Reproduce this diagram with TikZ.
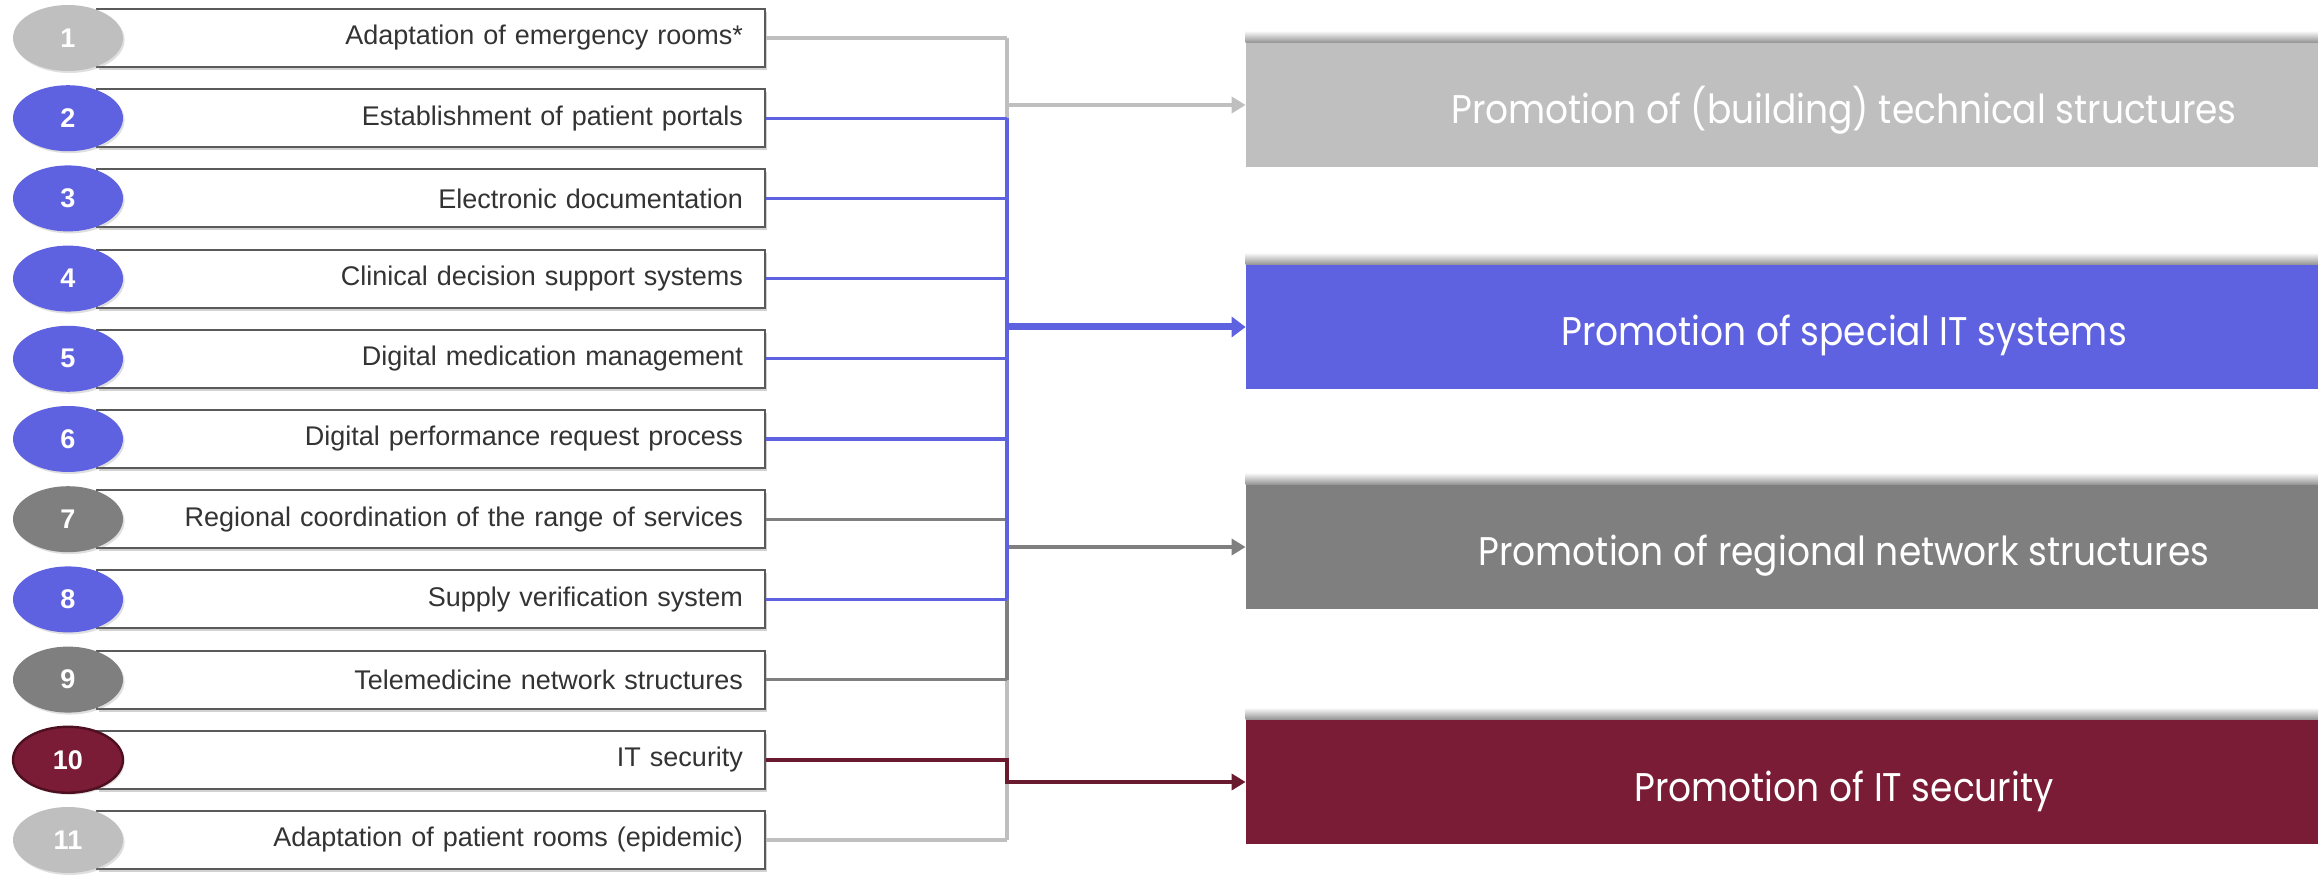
\documentclass[tikz,border=0pt]{standalone}
\usepackage{fontspec}
\setmainfont{Liberation Sans}
\newfontfamily\tgtfont[FakeStretch=0.9]{Poppins}
\usetikzlibrary{shadows,arrows.meta,calc,shapes.geometric}
\definecolor{cLG}{HTML}{BFBFBF}
\definecolor{cBL}{HTML}{5E62E0}
\definecolor{cDG}{HTML}{7F7F7F}
\definecolor{cMR}{HTML}{7A1C35}
\definecolor{cMRd}{HTML}{4E0F20}
\definecolor{cMRl}{HTML}{6A1A2E}
\definecolor{cBorder}{HTML}{5A5A5A}
\definecolor{cText}{HTML}{333333}
\begin{document}
\begin{tikzpicture}[x=0.5pt,y=-0.5pt,
  itembox/.style={draw=cBorder, line width=1pt, fill=white, minimum width=334pt,
    minimum height=29pt, inner sep=0pt, text width=312pt, align=right,
    font=\fontsize{13.5}{15}\selectfont, text=cText,
    drop shadow={shadow xshift=1pt, shadow yshift=-1.5pt, opacity=0.35}},
  numcirc/.style={ellipse, minimum width=55pt, minimum height=33pt, inner sep=0pt,
    text=white, font=\bfseries\fontsize{13.5}{15}\selectfont,
    drop shadow={shadow xshift=0.8pt, shadow yshift=-1pt, opacity=0.25}},
  cLGc/.style={fill=cLG},
  cBLc/.style={fill=cBL},
  cDGc/.style={fill=cDG},
  cMRc/.style={fill=cMR, draw=cMRd, line width=1.2pt},
  target/.style={minimum width=598pt, minimum height=62pt, inner sep=0pt,
    text height=19pt, text depth=0pt,
    text=white, font=\tgtfont\fontsize{20}{23}\selectfont},
  rowline/.style={line width=1.6pt},
  busline/.style={line width=1.8pt},
  arr/.style={-{Triangle[length=7pt,width=8pt]}}
]
\useasboundingbox (0,0) rectangle (2318,876);
\clip (0,0) rectangle (2318,876);
\fill[white] (0,0) rectangle (2318,876);

% target boxes
\foreach \n/\y/\c/\t in {1/105/cLG/Promotion of (building) technical structures,
                        2/327/cBL/Promotion of special IT systems,
                        3/547/cDG/Promotion of regional network structures,
                        4/782/cMR/Promotion of IT security}{
  \node[target, fill=\c] (t\n) at (1844,\y) {\t};
  \shade[top color=white, bottom color=gray!85] ($(t\n.north west)+(0,-12)$) rectangle (t\n.north east);
}

% item boxes and number circles
\foreach \i/\txt/\col in {1/Adaptation of emergency rooms*/cLG,
    2/Establishment of patient portals/cBL,
    3/Electronic documentation/cBL,
    4/Clinical decision support systems/cBL,
    5/Digital medication management/cBL,
    6/Digital performance request process/cBL,
    7/Regional coordination of the range of services/cDG,
    8/Supply verification system/cBL,
    9/Telemedicine network structures/cDG,
    10/IT security/cMR,
    11/Adaptation of patient rooms (epidemic)/cLG}{
  \node[itembox] (b\i) at (431,{38+80.2*(\i-1)}) {\txt};
  \node[numcirc, \col c] (n\i) at (68,{38+80.2*(\i-1)}) {\i};
}

\coordinate (bx) at (1007,0);

% light gray connectors
\draw[busline, cLG] (b1.east -| bx) -- (b11.east -| bx);
\draw[rowline, cLG] (b1.east) -- (b1.east -| bx);
\draw[rowline, cLG] (b11.east) -- (b11.east -| bx);
\draw[arr, cLG, line width=2.4pt] (t1.west -| bx) -- (t1.west);

% dark gray connectors
\draw[busline, cDG] (b7.east -| bx) -- (b9.east -| bx);
\draw[rowline, cDG] (b7.east) -- (b7.east -| bx);
\draw[rowline, cDG] (b9.east) -- (b9.east -| bx);
\draw[arr, cDG, line width=2.4pt] (t3.west -| bx) -- (t3.west);

% blue connectors
\draw[busline, cBL] (b2.east -| bx) -- (b8.east -| bx);
\foreach \i in {2,3,4,5,6,8}{
  \draw[rowline, cBL] (b\i.east) -- (b\i.east -| bx);
}
\draw[-{Triangle[length=7pt,width=10pt]}, cBL, line width=3.5pt] (t2.west -| bx) -- (t2.west);

% maroon connector
\draw[arr, cMRl, line width=1.8pt] (b10.east) -- (b10.east -| bx) |- (t4.west);
\end{tikzpicture}
\end{document}
